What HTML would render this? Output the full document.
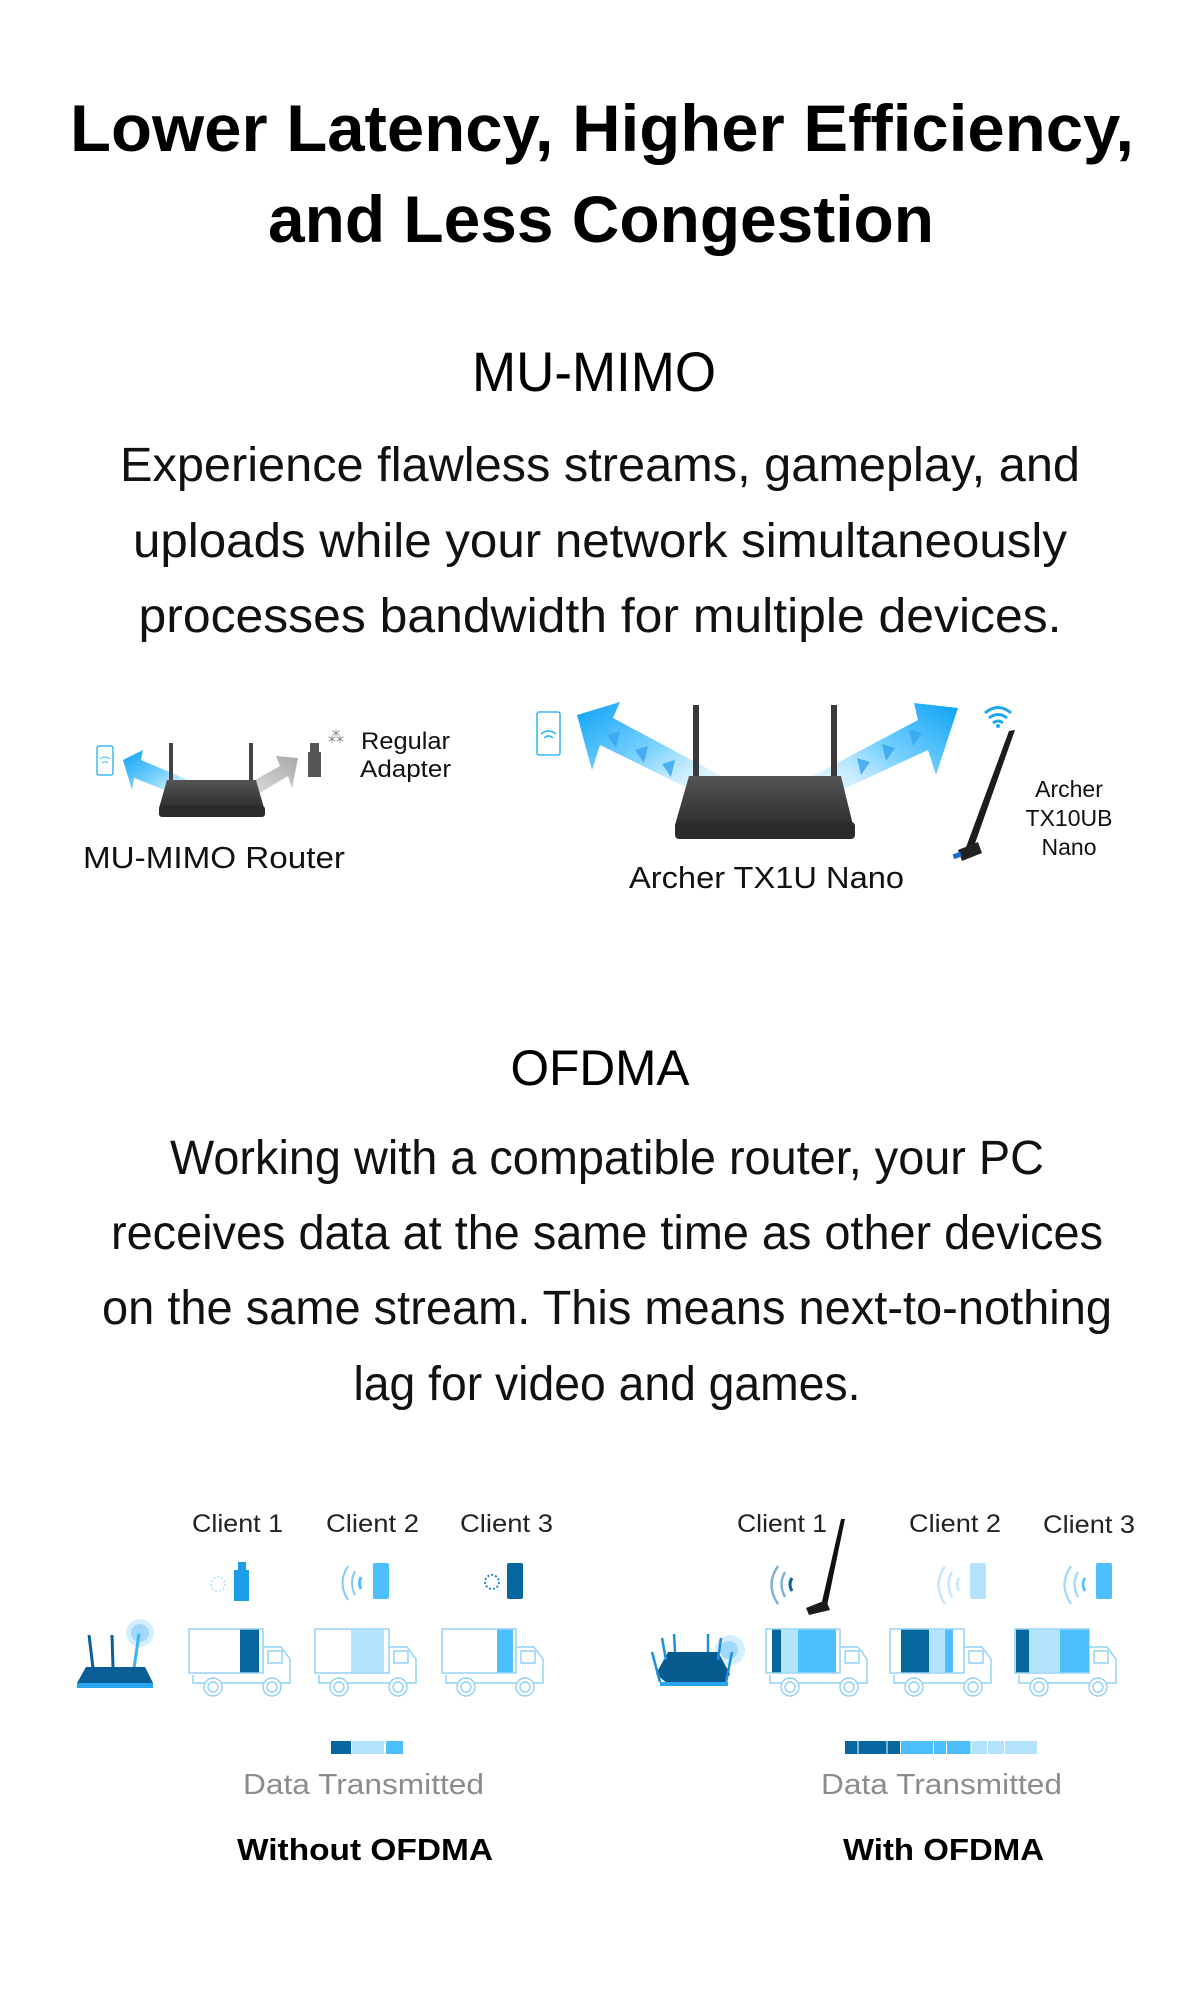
<!DOCTYPE html>
<html><head><meta charset="utf-8"><style>
html,body{margin:0;padding:0;background:#fff;width:1200px;height:2000px;overflow:hidden}
svg{display:block}
text{font-family:"Liberation Sans",sans-serif}
</style></head><body>
<svg width="1200" height="2000" viewBox="0 0 1200 2000" xmlns="http://www.w3.org/2000/svg">
<defs>
<linearGradient id="bl" x1="1" y1="1" x2="0" y2="0"><stop offset="0" stop-color="#e8f7ff" stop-opacity="0.3"/><stop offset="0.5" stop-color="#7fd3ff"/><stop offset="1" stop-color="#0aa2f5"/></linearGradient>
<linearGradient id="br" x1="0" y1="1" x2="1" y2="0"><stop offset="0" stop-color="#e8f7ff" stop-opacity="0.3"/><stop offset="0.5" stop-color="#7fd3ff"/><stop offset="1" stop-color="#0aa2f5"/></linearGradient>
<linearGradient id="gr" x1="0" y1="1" x2="1" y2="0"><stop offset="0" stop-color="#f0f0f0"/><stop offset="1" stop-color="#a8a8a8"/></linearGradient>
<linearGradient id="rt" x1="0" y1="0" x2="0" y2="1"><stop offset="0" stop-color="#555"/><stop offset="1" stop-color="#2e2e2e"/></linearGradient>
<g id="truck" fill="none" stroke="#8fd0f5" stroke-width="1.4">
<rect x="0" y="0" width="74" height="44" fill="#fff"/>
<path d="M74 18 H92 L101 30 V54 H4 V46"/>
<rect x="79" y="22" width="14" height="12"/>
<circle cx="24" cy="58" r="9" fill="#fff"/><circle cx="24" cy="58" r="5"/>
<circle cx="83" cy="58" r="9" fill="#fff"/><circle cx="83" cy="58" r="5"/>
</g>
</defs>

<!-- Title -->
<text x="602" y="151" font-size="66" font-weight="bold" text-anchor="middle" textLength="1064" lengthAdjust="spacingAndGlyphs" fill="#000">Lower Latency, Higher Efficiency,</text>
<text x="601" y="242" font-size="66" font-weight="bold" text-anchor="middle" textLength="666" lengthAdjust="spacingAndGlyphs" fill="#000">and Less Congestion</text>

<text x="594" y="391" font-size="56" text-anchor="middle" textLength="244" lengthAdjust="spacingAndGlyphs">MU-MIMO</text>
<g font-size="48" text-anchor="middle" fill="#111">
<text x="600" y="481" textLength="960" lengthAdjust="spacingAndGlyphs">Experience flawless streams, gameplay, and</text>
<text x="600" y="557" textLength="934" lengthAdjust="spacingAndGlyphs">uploads while your network simultaneously</text>
<text x="600" y="632" textLength="923" lengthAdjust="spacingAndGlyphs">processes bandwidth for multiple devices.</text>
</g>

<!-- Diagram 1 left -->
<rect x="97" y="746" width="16" height="29" rx="2" fill="#fff" stroke="#3ab9f5" stroke-width="1.5"/>
<path d="M100 759 q5-4 10 0 M102 763 q3-2.5 6 0" stroke="#3ab9f5" fill="none"/>
<polygon points="123,760 143,750 141,760 200,785 190,800 134,778 132,790" fill="url(#bl)"/>
<polygon points="298,758 276,756 280,766 228,795 240,805 288,776 292,788" fill="url(#gr)"/>
<rect x="169" y="743" width="4" height="40" fill="#444"/><rect x="249" y="743" width="4" height="40" fill="#444"/>
<polygon points="167,780 256,780 264,808 159,808" fill="url(#rt)"/>
<rect x="159" y="806" width="106" height="11" rx="3" fill="#2a2a2a"/>
<rect x="310" y="743" width="9" height="10" fill="#555"/><rect x="308" y="752" width="13" height="25" fill="#555"/>
<text x="328" y="742" font-size="16" fill="#888">⁂</text>
<text x="361" y="749" font-size="24" fill="#111" textLength="89" lengthAdjust="spacingAndGlyphs">Regular</text>
<text x="360" y="777" font-size="24" fill="#111" textLength="91" lengthAdjust="spacingAndGlyphs">Adapter</text>
<text x="83" y="868" font-size="31" fill="#111" textLength="262" lengthAdjust="spacingAndGlyphs">MU-MIMO Router</text>

<!-- Diagram 1 right -->
<rect x="537" y="712" width="23" height="43" rx="2" fill="#fff" stroke="#3ab9f5" stroke-width="1.6"/>
<path d="M541 734 q7.5-6 15 0 M544 738 q4.5-4 9 0" stroke="#3ab9f5" fill="none" stroke-width="1.6"/>
<polygon points="577,715 620,702 613,718 725,778 712,800 600,745 592,770" fill="url(#bl)"/>
<polygon points="958,708 914,703 918,720 805,780 820,800 928,750 936,775" fill="url(#br)"/>
<g fill="#3aa7f0" opacity="0.85">
<polygon points="607,735 620,731 616,748"/><polygon points="635,750 648,746 644,763"/><polygon points="662,764 675,760 671,777"/>
<polygon points="870,762 857,758 861,775"/><polygon points="895,748 882,744 886,761"/><polygon points="922,733 909,729 913,746"/>
</g>
<rect x="693" y="705" width="6" height="78" fill="#3a3a3a"/><rect x="831" y="705" width="6" height="78" fill="#3a3a3a"/>
<polygon points="689,776 841,776 853,825 675,825" fill="url(#rt)"/>
<rect x="675" y="822" width="180" height="17" rx="4" fill="#2b2b2b"/>
<path d="M985 713 q13-11 26 0 M989 718 q9-7 18 0 M993 723 q5-4 10 0" stroke="#1aa8f3" stroke-width="3" fill="none"/>
<circle cx="998" cy="726" r="2" fill="#1aa8f3"/>
<polygon points="1009,731 1015,730 972,852 965,850" fill="#1c1c1c"/>
<polygon points="958,850 978,842 982,853 962,861" fill="#222"/><rect x="953" y="853" width="8" height="5" fill="#1a6bd0" transform="rotate(-20 957 855)"/>
<text x="1069" y="797" font-size="23" fill="#111" text-anchor="middle">Archer</text>
<text x="1069" y="826" font-size="23" fill="#111" text-anchor="middle">TX10UB</text>
<text x="1069" y="855" font-size="23" fill="#111" text-anchor="middle">Nano</text>
<text x="629" y="888" font-size="31" fill="#111" textLength="275" lengthAdjust="spacingAndGlyphs">Archer TX1U Nano</text>

<!-- OFDMA -->
<text x="600" y="1085" font-size="50" text-anchor="middle" textLength="179" lengthAdjust="spacingAndGlyphs">OFDMA</text>
<g font-size="48" text-anchor="middle" fill="#111">
<text x="607" y="1174" textLength="874" lengthAdjust="spacingAndGlyphs">Working with a compatible router, your PC</text>
<text x="607" y="1249" textLength="992" lengthAdjust="spacingAndGlyphs">receives data at the same time as other devices</text>
<text x="607" y="1324" textLength="1010" lengthAdjust="spacingAndGlyphs">on the same stream. This means next-to-nothing</text>
<text x="607" y="1400" textLength="507" lengthAdjust="spacingAndGlyphs">lag for video and games.</text>
</g>

<g font-size="25" fill="#222">
<text x="192" y="1532" textLength="91" lengthAdjust="spacingAndGlyphs">Client 1</text>
<text x="326" y="1532" textLength="93" lengthAdjust="spacingAndGlyphs">Client 2</text>
<text x="460" y="1532" textLength="93" lengthAdjust="spacingAndGlyphs">Client 3</text>
<text x="737" y="1532" textLength="90" lengthAdjust="spacingAndGlyphs">Client 1</text>
<text x="909" y="1532" textLength="92" lengthAdjust="spacingAndGlyphs">Client 2</text>
<text x="1043" y="1533" textLength="92" lengthAdjust="spacingAndGlyphs">Client 3</text>
</g>

<!-- Without OFDMA devices -->
<rect x="238" y="1562" width="8" height="9" fill="#1c9fe6"/><rect x="234" y="1570" width="15" height="31" fill="#1c9fe6"/>
<circle cx="218" cy="1584" r="7" fill="none" stroke="#bde6fb" stroke-width="2" stroke-dasharray="2 2"/>
<path d="M348 1566 q-11 17 0 34 M355 1571 q-6 12 0 24" stroke="#7ccdf7" stroke-width="2" fill="none"/><path d="M361 1577 q-3 6 0 12" stroke="#4dbfff" stroke-width="3" fill="none"/>
<rect x="373" y="1563" width="16" height="36" rx="2" fill="#4dbfff"/>
<circle cx="492" cy="1582" r="7" fill="none" stroke="#2a86c4" stroke-width="2" stroke-dasharray="2 2"/>
<rect x="507" y="1563" width="16" height="36" rx="2" fill="#06679f"/>
<!-- router blue -->
<line x1="89" y1="1635" x2="93" y2="1668" stroke="#0b5f99" stroke-width="3"/>
<line x1="112" y1="1635" x2="113" y2="1668" stroke="#0b5f99" stroke-width="3"/>
<circle cx="140" cy="1633" r="14" fill="#d5eefd"/><circle cx="140" cy="1633" r="9" fill="#9fd8fb"/>
<line x1="139" y1="1634" x2="134" y2="1668" stroke="#3ab4f4" stroke-width="3"/>
<polygon points="86,1667 145,1667 153,1683 77,1683" fill="#0a5d96"/>
<rect x="77" y="1683" width="76" height="5" fill="#2aa5ef"/>
<g transform="translate(189,1629)"><use href="#truck"/><rect x="51" y="0.7" width="19" height="42.6" fill="#06679f"/></g>
<g transform="translate(315,1629)"><use href="#truck"/><rect x="36" y="0.7" width="33" height="42.6" fill="#b4e4fc"/></g>
<g transform="translate(442,1629)"><use href="#truck"/><rect x="55" y="0.7" width="16" height="42.6" fill="#4dbfff"/></g>
<rect x="331" y="1741" width="20" height="13" fill="#06679f"/><rect x="352" y="1741" width="32" height="13" fill="#b4e4fc"/><rect x="386" y="1741" width="17" height="13" fill="#4dbfff"/>
<text x="243" y="1794" font-size="29" fill="#8c8c8c" textLength="241" lengthAdjust="spacingAndGlyphs">Data Transmitted</text>
<text x="237" y="1860" font-size="31" font-weight="bold" fill="#000" textLength="256" lengthAdjust="spacingAndGlyphs">Without OFDMA</text>

<!-- With OFDMA devices -->
<path d="M778 1566 q-13 19 0 38 M785 1572 q-7 12 0 25" stroke="#7fb3d6" stroke-width="2.5" fill="none"/>
<path d="M792 1578 q-4 6 0 13" stroke="#06679f" stroke-width="3" fill="none"/>
<polygon points="841,1519 845,1519 827,1606 821,1606" fill="#111"/>
<polygon points="806,1608 826,1600 830,1610 809,1615" fill="#1b1b1b"/>
<path d="M945 1566 q-13 19 0 38 M952 1572 q-7 12 0 25 M959 1578 q-4 6 0 13" stroke="#c5e9fc" stroke-width="2.5" fill="none"/>
<rect x="970" y="1563" width="16" height="36" rx="2" fill="#b4e4fc"/>
<path d="M1071 1566 q-13 19 0 38 M1078 1572 q-7 12 0 25" stroke="#a9dcf9" stroke-width="2.5" fill="none"/><path d="M1085 1578 q-4 6 0 13" stroke="#4dbfff" stroke-width="2.5" fill="none"/>
<rect x="1096" y="1563" width="16" height="36" rx="2" fill="#4dbfff"/>
<circle cx="730" cy="1650" r="15" fill="#d5eefd"/><circle cx="729" cy="1650" r="9" fill="#9fd8fb"/>
<polygon points="668,1652 718,1652 730,1674 724,1684 668,1684 656,1674" fill="#075a8e"/>
<g stroke="#1b8fe0" stroke-width="2.5"><line x1="652" y1="1652" x2="660" y2="1682"/><line x1="662" y1="1638" x2="666" y2="1660"/><line x1="674" y1="1634" x2="675" y2="1652"/><line x1="708" y1="1634" x2="708" y2="1652"/><line x1="721" y1="1638" x2="718" y2="1660"/><line x1="732" y1="1652" x2="726" y2="1682"/></g>
<rect x="660" y="1682" width="68" height="4" fill="#2aa5ef"/>
<g transform="translate(766,1629)"><use href="#truck"/><rect x="6" y="0.7" width="9" height="42.6" fill="#06679f"/><rect x="15" y="0.7" width="17" height="42.6" fill="#b4e4fc"/><rect x="32" y="0.7" width="38" height="42.6" fill="#4dbfff"/></g>
<g transform="translate(890,1629)"><use href="#truck"/><rect x="11" y="0.7" width="28" height="42.6" fill="#06679f"/><rect x="39" y="0.7" width="16" height="42.6" fill="#b4e4fc"/><rect x="55" y="0.7" width="8" height="42.6" fill="#4dbfff"/></g>
<g transform="translate(1015,1629)"><use href="#truck"/><rect x="1" y="0.7" width="13" height="42.6" fill="#06679f"/><rect x="14" y="0.7" width="31" height="42.6" fill="#b4e4fc"/><rect x="45" y="0.7" width="29" height="42.6" fill="#4dbfff"/></g>
<g>
<rect x="845" y="1741" width="12.5" height="13" fill="#06679f"/><rect x="858.5" y="1741" width="28" height="13" fill="#06679f"/><rect x="887.5" y="1741" width="12.5" height="13" fill="#06679f"/>
<rect x="901" y="1741" width="32" height="13" fill="#4dbfff"/><rect x="934" y="1741" width="12" height="13" fill="#4dbfff"/><rect x="947" y="1741" width="23.5" height="13" fill="#4dbfff"/>
<rect x="971.5" y="1741" width="15.5" height="13" fill="#b4e4fc"/><rect x="988" y="1741" width="16" height="13" fill="#b4e4fc"/><rect x="1005" y="1741" width="32" height="13" fill="#b4e4fc"/>
</g>
<text x="821" y="1794" font-size="29" fill="#8c8c8c" textLength="241" lengthAdjust="spacingAndGlyphs">Data Transmitted</text>
<text x="843" y="1860" font-size="31" font-weight="bold" fill="#000" textLength="201" lengthAdjust="spacingAndGlyphs">With OFDMA</text>
</svg>
</body></html>
